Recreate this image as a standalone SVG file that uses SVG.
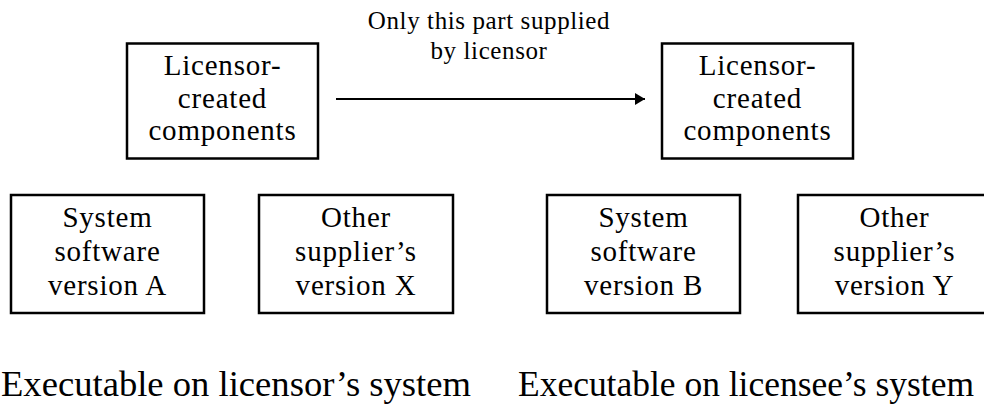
<svg xmlns="http://www.w3.org/2000/svg" width="984" height="407" viewBox="0 0 984 407">
  <defs>
    <style>
      .box { fill: #ffffff; stroke: #000000; stroke-width: 2.5; }
      .lbl { font-family: "Liberation Serif", "Times New Roman", serif; font-size: 29px; fill: #000000; text-anchor: middle; letter-spacing: 0.8px; }
      .note { font-family: "Liberation Serif", "Times New Roman", serif; font-size: 25px; fill: #000000; text-anchor: middle; letter-spacing: 0.6px; }
      .caption { font-family: "Liberation Serif", "Times New Roman", serif; font-size: 36px; fill: #000000; }
      .conn { stroke: #000000; stroke-width: 2; fill: none; }
    </style>
    <marker id="arrowhead" viewBox="0 0 10 12" refX="10" refY="6" markerWidth="10" markerHeight="12" markerUnits="userSpaceOnUse" orient="auto">
      <path d="M0,0 L10,6 L0,12 Z" fill="#000000"/>
    </marker>
  </defs>

  <rect width="984" height="407" fill="#ffffff"/>

  <!-- licensor side -->
  <g id="licensor-components">
    <rect class="box" x="127" y="43.5" width="191" height="115"/>
    <text class="lbl" x="222.5" y="75">Licensor-</text>
    <text class="lbl" x="222.5" y="107.5">created</text>
    <text class="lbl" x="222.5" y="140">components</text>
  </g>
  <g id="system-software-a">
    <rect class="box" x="11" y="195" width="193" height="118"/>
    <text class="lbl" x="107.5" y="227">System</text>
    <text class="lbl" x="107.5" y="261">software</text>
    <text class="lbl" x="107.5" y="295">version A</text>
  </g>
  <g id="other-supplier-x">
    <rect class="box" x="259" y="195" width="194" height="118"/>
    <text class="lbl" x="356" y="227">Other</text>
    <text class="lbl" x="356" y="261">supplier’s</text>
    <text class="lbl" x="356" y="295">version X</text>
  </g>

  <!-- licensee side -->
  <g id="licensee-components">
    <rect class="box" x="662" y="43.5" width="191" height="115"/>
    <text class="lbl" x="757.5" y="75">Licensor-</text>
    <text class="lbl" x="757.5" y="107.5">created</text>
    <text class="lbl" x="757.5" y="140">components</text>
  </g>
  <g id="system-software-b">
    <rect class="box" x="547" y="195" width="193" height="118"/>
    <text class="lbl" x="643.5" y="227">System</text>
    <text class="lbl" x="643.5" y="261">software</text>
    <text class="lbl" x="643.5" y="295">version B</text>
  </g>
  <g id="other-supplier-y">
    <rect class="box" x="798" y="195" width="193" height="118"/>
    <text class="lbl" x="894.5" y="227">Other</text>
    <text class="lbl" x="894.5" y="261">supplier’s</text>
    <text class="lbl" x="894.5" y="295">version Y</text>
  </g>

  <!-- supply connector -->
  <g id="connectors">
    <line class="conn" x1="336" y1="99" x2="645" y2="99" marker-end="url(#arrowhead)"/>
    <text class="note" x="489" y="29">Only this part supplied</text>
    <text class="note" x="489" y="59">by licensor</text>
  </g>

  <!-- captions -->
  <text class="caption" x="1" y="396" textLength="470" lengthAdjust="spacingAndGlyphs">Executable on licensor’s system</text>
  <text class="caption" x="518" y="396" textLength="456" lengthAdjust="spacingAndGlyphs">Executable on licensee’s system</text>
</svg>
